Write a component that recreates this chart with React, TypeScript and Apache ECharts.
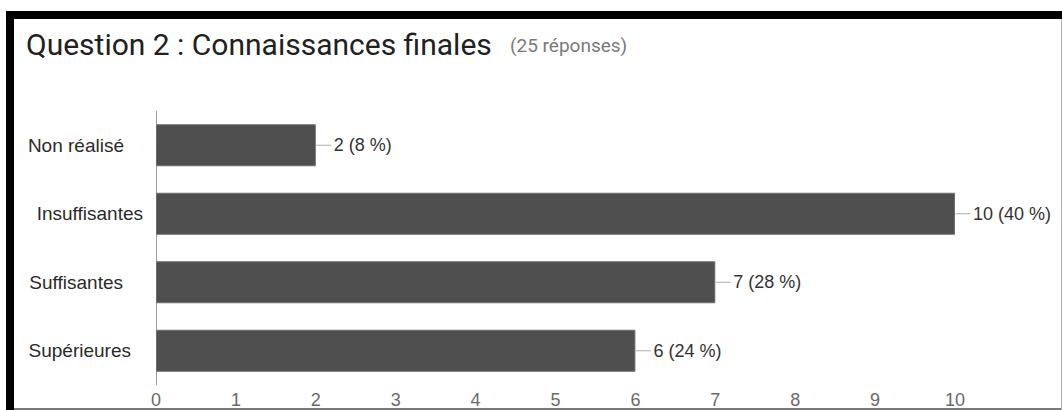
import React, { useEffect, useRef } from "react";
import * as echarts from "echarts";

const categories = ["Non réalisé", "Insuffisantes", "Suffisantes", "Supérieures"];
const counts = [2, 10, 7, 6];
const totalResponses = 25;
const xTicks = [0, 1, 2, 3, 4, 5, 6, 7, 8, 9, 10];
const titleText = "Question 2 : Connaissances finales";
const subtitleText = "(25 réponses)";
// per-label right gap before the axis (style only)
const labelGap = [19, 0, 20, 12];

export default function App() {
  const ref = useRef<HTMLDivElement>(null);
  useEffect(() => {
    if (!ref.current) return;
    const chart = echarts.init(ref.current, undefined, { renderer: "svg" });
    const rich: any = {};
    labelGap.forEach((g, i) => {
      rich["g" + i] = { width: g, fontSize: 19 };
    });
    const option: any = {
      animation: false,
      backgroundColor: "#ffffff",
      grid: {
        left: 156,
        right: 107,
        top: 111,
        bottom: 25,
        containLabel: false,
        outerBoundsMode: "none",
      },
      xAxis: {
        type: "value",
        min: xTicks[0],
        max: xTicks[xTicks.length - 1],
        interval: 1,
        axisLine: { show: false },
        axisTick: { show: false },
        splitLine: { show: false },
        axisLabel: {
          margin: 6,
          fontSize: 18,
          color: "#6a6a6a",
          fontFamily: "Liberation Sans, Arial, sans-serif",
        },
      },
      yAxis: {
        type: "category",
        inverse: true,
        data: categories,
        axisLine: { show: true, lineStyle: { color: "#a0a0a0", width: 1 } },
        axisTick: { show: false },
        splitLine: { show: false },
        axisLabel: {
          margin: 13,
          fontSize: 19,
          color: "#2a2a2a",
          fontFamily: "Liberation Sans, Arial, sans-serif",
          formatter: (value: string, index: number) =>
            labelGap[index] > 0 ? `${value}{g${index}| }` : value,
          rich,
        },
      },
      series: [
        {
          type: "bar",
          data: counts,
          barWidth: 42,
          itemStyle: { color: "#4f4f4f", borderColor: "#6c6c6c", borderWidth: 1 },
          label: {
            show: true,
            position: "right",
            distance: 18,
            fontSize: 18,
            color: "#333333",
            fontFamily: "Liberation Sans, Arial, sans-serif",
            formatter: (p: any) => `${p.value} (${Math.round((p.value / totalResponses) * 100)} %)`,
          },
        },
        {
          type: "scatter",
          data: counts.map((v, i) => [v, categories[i]]),
          symbol: "rect",
          symbolSize: [15, 1],
          symbolOffset: [8, 0],
          itemStyle: { color: "#9a9a9a" },
          silent: true,
          z: 1,
        },
      ],
      graphic: [
        { type: "rect", shape: { x: 6, y: 11, width: 1056, height: 8 }, style: { fill: "#000" } },
        { type: "rect", shape: { x: 6, y: 11, width: 8, height: 399 }, style: { fill: "#000" } },
        { type: "rect", shape: { x: 14, y: 408, width: 1048, height: 2 }, style: { fill: "#7a7a7a" } },
        { type: "rect", shape: { x: 1061, y: 19, width: 1, height: 391 }, style: { fill: "#b0b0b0" } },
        {
          type: "text",
          x: 26,
          y: 44,
          style: {
            text: titleText,
            fontSize: 30,
            fontFamily: "Roboto, sans-serif",
            fill: "#212121",
            verticalAlign: "middle",
          },
        },
        {
          type: "text",
          x: 510,
          y: 45,
          style: {
            text: subtitleText,
            fontSize: 19,
            fontFamily: "Roboto, sans-serif",
            fill: "#7a7a7a",
            verticalAlign: "middle",
          },
        },
      ],
    };
    chart.setOption(option);
    return () => chart.dispose();
  }, []);
  return (
    <div
      ref={ref}
      style={{ position: "absolute", left: 0, top: 0, width: 1062, height: 410, background: "#fff" }}
    />
  );
}
